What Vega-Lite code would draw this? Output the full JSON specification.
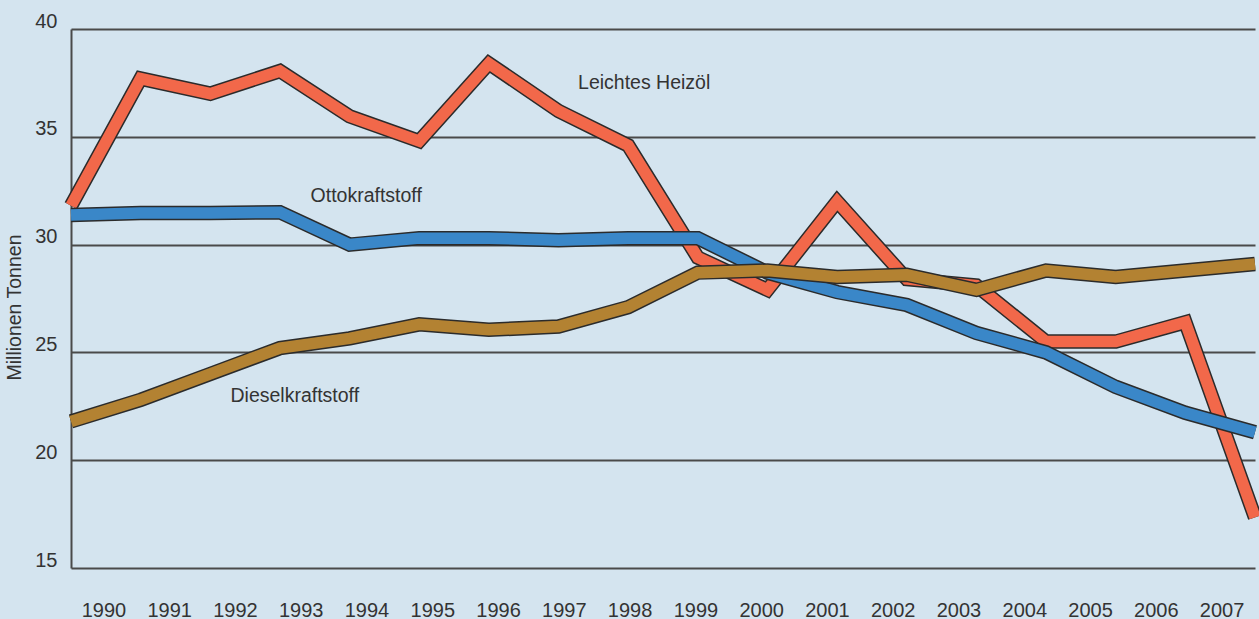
{
  "$schema": "https://vega.github.io/schema/vega-lite/v6.json",
  "width": 1184,
  "height": 539,
  "autosize": "none",
  "padding": {"left": 71, "top": 29, "right": 4, "bottom": 51},
  "background": "#d4e4ef",
  "config": {
    "view": {"stroke": null},
    "font": "Liberation Sans",
    "axisY": {"grid": true, "gridColor": "#4a4a4a", "gridWidth": 2, "gridOpacity": 1, "domain": true, "domainColor": "#4a4a4a", "domainWidth": 2, "ticks": false, "labelFontSize": 20, "labelColor": "#333333", "labelPadding": 14, "labelBaseline": "alphabetic", "labelOffset": -2, "titleFontSize": 19.5, "titleFontWeight": "normal", "titleColor": "#333333", "titlePadding": 10, "titleY": 278},
    "axisX": {"grid": false, "domain": false, "ticks": false, "labelAngle": 0, "labelFontSize": 20, "labelColor": "#333333", "labelPadding": 32, "title": null}
  },
  "datasets": {
    "series": [
      {"year": 1990, "series": "Leichtes Heizöl", "value": 31.8},
      {"year": 1991, "series": "Leichtes Heizöl", "value": 37.7},
      {"year": 1992, "series": "Leichtes Heizöl", "value": 37.0},
      {"year": 1993, "series": "Leichtes Heizöl", "value": 38.05},
      {"year": 1994, "series": "Leichtes Heizöl", "value": 35.95},
      {"year": 1995, "series": "Leichtes Heizöl", "value": 34.8},
      {"year": 1996, "series": "Leichtes Heizöl", "value": 38.4},
      {"year": 1997, "series": "Leichtes Heizöl", "value": 36.2},
      {"year": 1998, "series": "Leichtes Heizöl", "value": 34.6},
      {"year": 1999, "series": "Leichtes Heizöl", "value": 29.4},
      {"year": 2000, "series": "Leichtes Heizöl", "value": 27.9},
      {"year": 2001, "series": "Leichtes Heizöl", "value": 32.0},
      {"year": 2002, "series": "Leichtes Heizöl", "value": 28.4},
      {"year": 2003, "series": "Leichtes Heizöl", "value": 28.1},
      {"year": 2004, "series": "Leichtes Heizöl", "value": 25.5},
      {"year": 2005, "series": "Leichtes Heizöl", "value": 25.5},
      {"year": 2006, "series": "Leichtes Heizöl", "value": 26.4},
      {"year": 2007, "series": "Leichtes Heizöl", "value": 17.35},
      {"year": 1990, "series": "Ottokraftstoff", "value": 31.37},
      {"year": 1991, "series": "Ottokraftstoff", "value": 31.46},
      {"year": 1992, "series": "Ottokraftstoff", "value": 31.46},
      {"year": 1993, "series": "Ottokraftstoff", "value": 31.5},
      {"year": 1994, "series": "Ottokraftstoff", "value": 30.0},
      {"year": 1995, "series": "Ottokraftstoff", "value": 30.3},
      {"year": 1996, "series": "Ottokraftstoff", "value": 30.3},
      {"year": 1997, "series": "Ottokraftstoff", "value": 30.2},
      {"year": 1998, "series": "Ottokraftstoff", "value": 30.3},
      {"year": 1999, "series": "Ottokraftstoff", "value": 30.3},
      {"year": 2000, "series": "Ottokraftstoff", "value": 28.7},
      {"year": 2001, "series": "Ottokraftstoff", "value": 27.8},
      {"year": 2002, "series": "Ottokraftstoff", "value": 27.2},
      {"year": 2003, "series": "Ottokraftstoff", "value": 25.9},
      {"year": 2004, "series": "Ottokraftstoff", "value": 25.0},
      {"year": 2005, "series": "Ottokraftstoff", "value": 23.4},
      {"year": 2006, "series": "Ottokraftstoff", "value": 22.2},
      {"year": 2007, "series": "Ottokraftstoff", "value": 21.3},
      {"year": 1990, "series": "Dieselkraftstoff", "value": 21.8},
      {"year": 1991, "series": "Dieselkraftstoff", "value": 22.8},
      {"year": 1992, "series": "Dieselkraftstoff", "value": 24.0},
      {"year": 1993, "series": "Dieselkraftstoff", "value": 25.2},
      {"year": 1994, "series": "Dieselkraftstoff", "value": 25.65},
      {"year": 1995, "series": "Dieselkraftstoff", "value": 26.3},
      {"year": 1996, "series": "Dieselkraftstoff", "value": 26.05},
      {"year": 1997, "series": "Dieselkraftstoff", "value": 26.2},
      {"year": 1998, "series": "Dieselkraftstoff", "value": 27.1},
      {"year": 1999, "series": "Dieselkraftstoff", "value": 28.7},
      {"year": 2000, "series": "Dieselkraftstoff", "value": 28.8},
      {"year": 2001, "series": "Dieselkraftstoff", "value": 28.5},
      {"year": 2002, "series": "Dieselkraftstoff", "value": 28.6},
      {"year": 2003, "series": "Dieselkraftstoff", "value": 27.9},
      {"year": 2004, "series": "Dieselkraftstoff", "value": 28.8},
      {"year": 2005, "series": "Dieselkraftstoff", "value": 28.5},
      {"year": 2006, "series": "Dieselkraftstoff", "value": 28.8},
      {"year": 2007, "series": "Dieselkraftstoff", "value": 29.1}
    ],
    "labels": [
      {"label": "Leichtes Heizöl", "year": 1997.28, "value": 37.2},
      {"label": "Ottokraftstoff", "year": 1993.44, "value": 31.99},
      {"label": "Dieselkraftstoff", "year": 1992.29, "value": 22.71}
    ]
  },
  "layer": [
    {
      "data": {"name": "series"},
      "mark": {"type": "point", "opacity": 0},
      "encoding": {
        "x": {"field": "year", "type": "ordinal", "scale": {"type": "band", "paddingInner": 0, "paddingOuter": 0}, "title": null},
        "y": {"field": "value", "type": "quantitative", "scale": {"domain": [15, 40], "nice": false, "zero": false}, "title": "Millionen Tonnen", "axis": {"values": [15, 20, 25, 30, 35, 40]}}
      }
    },
    {
      "data": {"name": "series"},
      "encoding": {
        "x": {"field": "year", "type": "quantitative", "scale": {"domain": [1990, 2007], "nice": false, "zero": false}, "axis": null},
        "y": {"field": "value", "type": "quantitative", "title": "Millionen Tonnen", "axis": {"values": [15, 20, 25, 30, 35, 40]}}
      },
      "layer": [
        {"transform": [{"filter": "datum.series === 'Leichtes Heizöl'"}], "mark": {"type": "line", "stroke": "#2b2b2b", "strokeWidth": 14.5, "strokeCap": "butt", "strokeJoin": "miter", "strokeMiterLimit": 10}},
        {"transform": [{"filter": "datum.series === 'Leichtes Heizöl'"}], "mark": {"type": "line", "stroke": "#f2684a", "strokeWidth": 11.5, "strokeCap": "butt", "strokeJoin": "miter", "strokeMiterLimit": 10}},
        {"transform": [{"filter": "datum.series === 'Ottokraftstoff'"}], "mark": {"type": "line", "stroke": "#2b2b2b", "strokeWidth": 14.5, "strokeCap": "butt", "strokeJoin": "miter", "strokeMiterLimit": 10}},
        {"transform": [{"filter": "datum.series === 'Ottokraftstoff'"}], "mark": {"type": "line", "stroke": "#3a87c8", "strokeWidth": 11.5, "strokeCap": "butt", "strokeJoin": "miter", "strokeMiterLimit": 10}},
        {"transform": [{"filter": "datum.series === 'Dieselkraftstoff'"}], "mark": {"type": "line", "stroke": "#2b2b2b", "strokeWidth": 14.5, "strokeCap": "butt", "strokeJoin": "miter", "strokeMiterLimit": 10}},
        {"transform": [{"filter": "datum.series === 'Dieselkraftstoff'"}], "mark": {"type": "line", "stroke": "#b38232", "strokeWidth": 11.5, "strokeCap": "butt", "strokeJoin": "miter", "strokeMiterLimit": 10}},
        {
          "data": {"name": "labels"},
          "mark": {"type": "text", "align": "left", "baseline": "alphabetic", "fontSize": 19.5, "color": "#333333"},
          "encoding": {"text": {"field": "label"}}
        }
      ]
    }
  ],
  "resolve": {"scale": {"x": "independent"}}
}
